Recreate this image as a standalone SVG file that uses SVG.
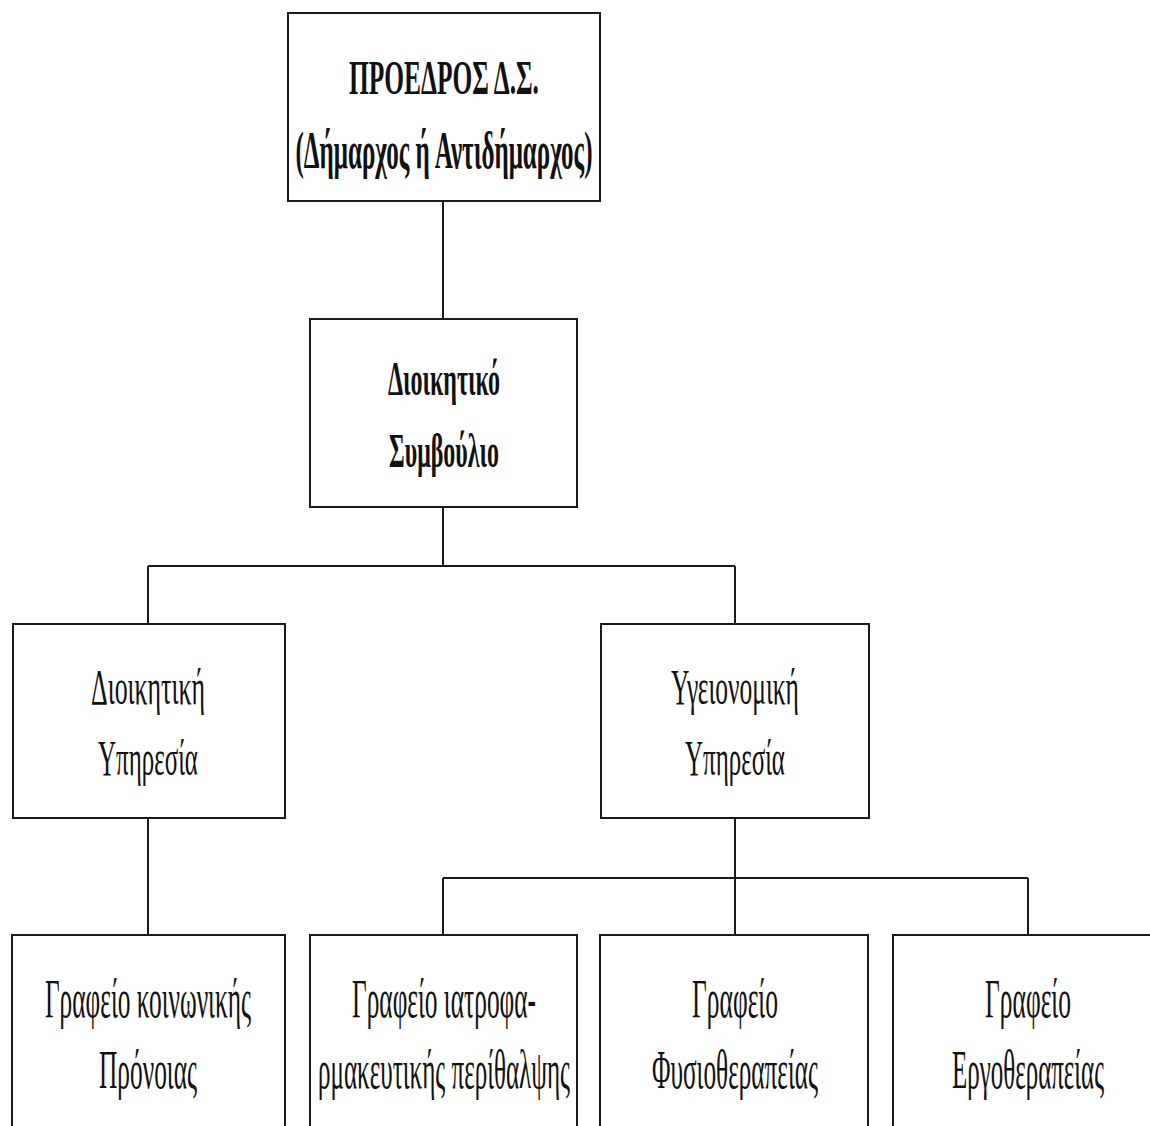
<svg xmlns="http://www.w3.org/2000/svg" width="1150" height="1126" viewBox="0 0 1150 1126">
<style>
.box{fill:#fff;stroke:#1a1a1a;stroke-width:2}
.t{font-family:"Liberation Serif","Times New Roman",serif;font-size:50px;fill:#111;text-anchor:middle}
.b{font-weight:bold;font-size:48px}
.s{font-size:54px}
.c{fill:none;stroke:#1a1a1a;stroke-width:2}
</style>
<rect width="1150" height="1126" fill="#fff"/>
<g id="connectors">
<path class="c" d="M443 201V319M443 507V566M148 566H735M148 566V624M735 566V624M148 818V935M735 818V878M443 878H1028M443 878V935M735 878V935M1028 878V935"/>
</g>
<g id="president">
<rect class="box" x="288" y="13" width="312" height="188"/>
<text class="t b" transform="translate(444 0) scale(0.45 1)" x="0" y="94" textLength="422" lengthAdjust="spacingAndGlyphs">ΠΡΟΕΔΡΟΣ Δ.Σ.</text>
<text class="t b" transform="translate(444 0) scale(0.45 1)" x="0" y="168" textLength="660" lengthAdjust="spacingAndGlyphs" style="font-size:52px">(Δήμαρχος ή Αντιδήμαρχος)</text>
</g>
<g id="board">
<rect class="box" x="310" y="319" width="267" height="188"/>
<text class="t b" transform="translate(444 0) scale(0.45 1)" x="0" y="395" textLength="249" lengthAdjust="spacingAndGlyphs">Διοικητικό</text>
<text class="t b" transform="translate(444 0) scale(0.45 1)" x="0" y="467" textLength="244" lengthAdjust="spacingAndGlyphs">Συμβούλιο</text>
</g>
<g id="admin">
<rect class="box" x="13" y="624" width="272" height="194"/>
<text class="t" transform="translate(148 0) scale(0.45 1)" x="0" y="704" textLength="253" lengthAdjust="spacingAndGlyphs">Διοικητική</text>
<text class="t" transform="translate(148 0) scale(0.45 1)" x="0" y="775" textLength="222" lengthAdjust="spacingAndGlyphs">Υπηρεσία</text>
</g>
<g id="health">
<rect class="box" x="601" y="624" width="268" height="194"/>
<text class="t" transform="translate(735 0) scale(0.45 1)" x="0" y="704" textLength="284" lengthAdjust="spacingAndGlyphs">Υγειονομική</text>
<text class="t" transform="translate(735 0) scale(0.45 1)" x="0" y="775" textLength="222" lengthAdjust="spacingAndGlyphs">Υπηρεσία</text>
</g>
<g id="welfare">
<rect class="box" x="12" y="935" width="273" height="200"/>
<text class="t s" transform="translate(148 0) scale(0.45 1)" x="0" y="1017" textLength="458" lengthAdjust="spacingAndGlyphs">Γραφείο κοινωνικής</text>
<text class="t s" transform="translate(148 0) scale(0.45 1)" x="0" y="1088" textLength="218" lengthAdjust="spacingAndGlyphs">Πρόνοιας</text>
</g>
<g id="pharma">
<rect class="box" x="310" y="935" width="267" height="200"/>
<text class="t s" transform="translate(444 0) scale(0.45 1)" x="0" y="1017" textLength="409" lengthAdjust="spacingAndGlyphs">Γραφείο ιατροφα-</text>
<text class="t s" transform="translate(444 0) scale(0.45 1)" x="0" y="1088" textLength="560" lengthAdjust="spacingAndGlyphs">ρμακευτικής περίθαλψης</text>
</g>
<g id="physio">
<rect class="box" x="600" y="935" width="268" height="200"/>
<text class="t s" transform="translate(735 0) scale(0.45 1)" x="0" y="1017" textLength="191" lengthAdjust="spacingAndGlyphs">Γραφείο</text>
<text class="t s" transform="translate(735 0) scale(0.45 1)" x="0" y="1088" textLength="369" lengthAdjust="spacingAndGlyphs">Φυσιοθεραπείας</text>
</g>
<g id="ergo">
<rect class="box" x="893" y="935" width="270" height="200"/>
<text class="t s" transform="translate(1028 0) scale(0.45 1)" x="0" y="1017" textLength="191" lengthAdjust="spacingAndGlyphs">Γραφείο</text>
<text class="t s" transform="translate(1028 0) scale(0.45 1)" x="0" y="1088" textLength="338" lengthAdjust="spacingAndGlyphs">Εργοθεραπείας</text>
</g>
</svg>
